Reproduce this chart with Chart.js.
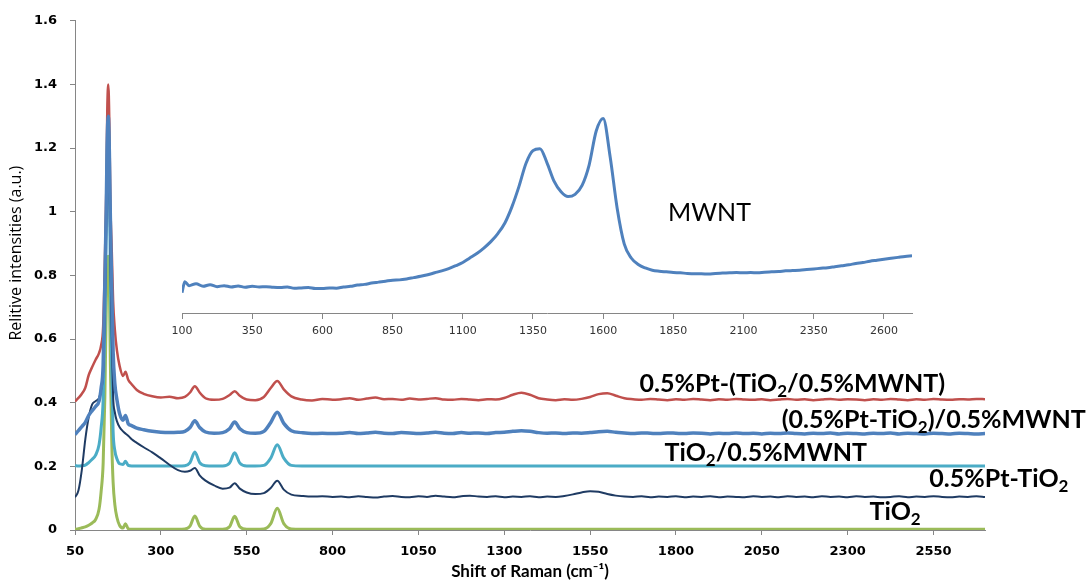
<!DOCTYPE html>
<html>
<head>
<meta charset="utf-8">
<script src="https://cdn.jsdelivr.net/npm/chart.js@4.4.1/dist/chart.umd.min.js"></script>
<style>
  html, body { margin: 0; padding: 0; background: #fff; }
  #wrap { position: relative; width: 1086px; height: 583px; }
  #main { position: absolute; left: 0; top: 0; }
  #inset { position: absolute; left: 150px; top: 100px; }
</style>
</head>
<body>
<div id="wrap">
  <canvas id="main" width="1086" height="583"></canvas>
  <canvas id="inset" width="790" height="250"></canvas>
</div>
<script>
// Raman shift grid (cm-1) shared by the five sample spectra
const shifts = [
  50, 60, 70, 80, 90, 100, 110, 120,
  126, 132, 137, 141, 144, 147, 150, 153, 157, 161,
  166, 172, 180, 190, 197, 205, 215, 230, 250, 275,
  300, 325, 350, 370, 385, 399, 413, 430, 455, 480,
  500, 515, 530, 550, 575, 600, 620, 639, 658, 680,
  710, 740, 770, 800,
  825, 850, 875, 900, 925, 950, 975, 1000, 1025, 1050,
  1075, 1100, 1125, 1150, 1175, 1200, 1225, 1250, 1275, 1300,
  1325, 1350, 1375, 1400, 1425, 1450, 1475, 1500, 1525, 1550,
  1575, 1600, 1625, 1650, 1675, 1700, 1725, 1750, 1775, 1800,
  1825, 1850, 1875, 1900, 1925, 1950, 1975, 2000, 2025, 2050,
  2075, 2100, 2125, 2150, 2175, 2200, 2225, 2250, 2275, 2300,
  2325, 2350, 2375, 2400, 2425, 2450, 2475, 2500, 2525, 2550,
  2575, 2600, 2625, 2650, 2675, 2700
];

// TiO2
const tio2 = [
  0.002, 0.004, 0.007, 0.010, 0.015, 0.022, 0.033, 0.065,
  0.120, 0.210, 0.420, 0.700, 0.840, 0.860, 0.780, 0.520, 0.280, 0.150,
  0.080, 0.040, 0.014, 0.006, 0.020, 0.004, 0.002, 0.002, 0.002, 0.002,
  0.002, 0.002, 0.002, 0.003, 0.012, 0.044, 0.012, 0.002, 0.002, 0.002,
  0.010, 0.043, 0.010, 0.002, 0.002, 0.003, 0.020, 0.068, 0.020, 0.003,
  0.002, 0.002, 0.002, 0.002,
  0.002, 0.002, 0.002, 0.002, 0.002, 0.002, 0.002, 0.002, 0.002, 0.002,
  0.002, 0.002, 0.002, 0.002, 0.002, 0.002, 0.002, 0.002, 0.002, 0.002,
  0.002, 0.002, 0.002, 0.002, 0.002, 0.002, 0.002, 0.002, 0.002, 0.002,
  0.002, 0.002, 0.002, 0.002, 0.002, 0.002, 0.002, 0.002, 0.002, 0.002,
  0.002, 0.002, 0.002, 0.002, 0.002, 0.002, 0.002, 0.002, 0.002, 0.002,
  0.002, 0.002, 0.002, 0.002, 0.002, 0.002, 0.002, 0.002, 0.002, 0.002,
  0.002, 0.002, 0.002, 0.002, 0.002, 0.002, 0.002, 0.002, 0.002, 0.002,
  0.002, 0.002, 0.002, 0.002, 0.002, 0.002
];

// TiO2/0.5%MWNT
const tio2Mwnt = [
  0.202, 0.201, 0.202, 0.204, 0.212, 0.222, 0.235, 0.268,
  0.320, 0.410, 0.650, 0.950, 1.200, 1.280, 1.120, 0.800, 0.500, 0.310,
  0.250, 0.224, 0.208, 0.206, 0.216, 0.203, 0.201, 0.201, 0.201, 0.201,
  0.201, 0.201, 0.201, 0.202, 0.212, 0.245, 0.212, 0.202, 0.201, 0.201,
  0.210, 0.243, 0.210, 0.201, 0.201, 0.203, 0.226, 0.268, 0.226, 0.203,
  0.201, 0.201, 0.201, 0.201,
  0.201, 0.201, 0.201, 0.201, 0.201, 0.201, 0.201, 0.201, 0.201, 0.201,
  0.201, 0.201, 0.201, 0.201, 0.201, 0.201, 0.201, 0.201, 0.201, 0.201,
  0.201, 0.201, 0.201, 0.201, 0.201, 0.201, 0.201, 0.201, 0.201, 0.201,
  0.201, 0.201, 0.201, 0.201, 0.201, 0.201, 0.201, 0.201, 0.201, 0.201,
  0.201, 0.201, 0.201, 0.201, 0.201, 0.201, 0.201, 0.201, 0.201, 0.201,
  0.201, 0.201, 0.201, 0.201, 0.201, 0.201, 0.201, 0.201, 0.201, 0.201,
  0.201, 0.201, 0.201, 0.201, 0.201, 0.201, 0.201, 0.201, 0.201, 0.201,
  0.201, 0.201, 0.201, 0.201, 0.201, 0.201
];

// 0.5%Pt-TiO2
const ptTio2 = [
  0.103, 0.124, 0.190, 0.285, 0.355, 0.395, 0.405, 0.415,
  0.440, 0.500, 0.700, 0.950, 1.150, 1.220, 1.100, 0.850, 0.600, 0.420,
  0.370, 0.342, 0.323, 0.310, 0.303, 0.296, 0.285, 0.274, 0.260, 0.244,
  0.225, 0.205, 0.188, 0.183, 0.186, 0.195, 0.172, 0.155, 0.140, 0.130,
  0.133, 0.147, 0.130, 0.118, 0.113, 0.116, 0.132, 0.155, 0.127, 0.111,
  0.107, 0.105, 0.106, 0.104,
  0.105, 0.103, 0.106, 0.104, 0.102, 0.105, 0.107, 0.104, 0.103, 0.106,
  0.104, 0.108, 0.105, 0.103, 0.106, 0.108, 0.105, 0.104, 0.106, 0.103,
  0.105, 0.104, 0.106, 0.103, 0.105, 0.104, 0.107, 0.112, 0.118, 0.122,
  0.120, 0.113, 0.108, 0.105, 0.104, 0.106, 0.103, 0.105, 0.104, 0.106,
  0.103, 0.105, 0.104, 0.106, 0.103, 0.105, 0.104, 0.103, 0.106, 0.104,
  0.105, 0.103, 0.106, 0.104, 0.105, 0.103, 0.106, 0.104, 0.105, 0.103,
  0.106, 0.104, 0.105, 0.103, 0.104, 0.106, 0.103, 0.105, 0.104, 0.106,
  0.104, 0.103, 0.105, 0.104, 0.106, 0.104
];

// (0.5%Pt-TiO2)/0.5%MWNT
const ptTio2Mwnt = [
  0.300, 0.312, 0.325, 0.338, 0.360, 0.375, 0.388, 0.405,
  0.445, 0.520, 0.780, 1.010, 1.230, 1.300, 1.190, 0.980, 0.760, 0.560,
  0.460, 0.410, 0.365, 0.345, 0.360, 0.334, 0.328, 0.320, 0.315, 0.310,
  0.307, 0.306, 0.307, 0.310, 0.322, 0.343, 0.322, 0.308, 0.304, 0.306,
  0.318, 0.339, 0.318, 0.306, 0.304, 0.310, 0.338, 0.370, 0.335, 0.312,
  0.306, 0.303, 0.304, 0.303,
  0.304, 0.306, 0.303, 0.305, 0.307, 0.304, 0.303, 0.306, 0.305, 0.303,
  0.305, 0.307, 0.304, 0.303, 0.306, 0.304, 0.305, 0.303, 0.306, 0.307,
  0.310, 0.312, 0.310, 0.306, 0.304, 0.305, 0.303, 0.305, 0.304, 0.306,
  0.309, 0.310, 0.307, 0.305, 0.303, 0.305, 0.304, 0.303, 0.305, 0.304,
  0.303, 0.305, 0.304, 0.302, 0.304, 0.303, 0.305, 0.303, 0.304, 0.302,
  0.304, 0.303, 0.305, 0.303, 0.302, 0.304, 0.303, 0.305, 0.302, 0.304,
  0.303, 0.302, 0.304, 0.303, 0.305, 0.302, 0.304, 0.303, 0.302, 0.304,
  0.303, 0.302, 0.304, 0.303, 0.302, 0.303
];

// 0.5%Pt-(TiO2/0.5%MWNT)
const ptOnTio2Mwnt = [
  0.404, 0.415, 0.428, 0.447, 0.487, 0.512, 0.535, 0.556,
  0.580, 0.640, 0.850, 1.060, 1.320, 1.400, 1.280, 1.030, 0.880, 0.720,
  0.630, 0.565, 0.515, 0.484, 0.497, 0.472, 0.458, 0.440, 0.428, 0.420,
  0.416, 0.419, 0.414, 0.418, 0.432, 0.452, 0.432, 0.414, 0.409, 0.412,
  0.424, 0.436, 0.422, 0.410, 0.408, 0.418, 0.446, 0.468, 0.442, 0.420,
  0.410, 0.407, 0.412, 0.409,
  0.411, 0.414, 0.409, 0.413, 0.416, 0.411, 0.412, 0.409, 0.413, 0.410,
  0.412, 0.414, 0.410, 0.409, 0.412, 0.410, 0.408, 0.411, 0.410, 0.415,
  0.425, 0.431, 0.425, 0.414, 0.410, 0.408, 0.411, 0.409, 0.412, 0.418,
  0.427, 0.430, 0.422, 0.414, 0.411, 0.409, 0.412, 0.410, 0.408, 0.411,
  0.409, 0.412, 0.410, 0.408, 0.411, 0.409, 0.412, 0.410, 0.409, 0.411,
  0.408, 0.410, 0.412, 0.409, 0.411, 0.408, 0.410, 0.412, 0.409, 0.411,
  0.410, 0.408, 0.411, 0.409, 0.412, 0.410, 0.408, 0.411, 0.409, 0.412,
  0.410, 0.409, 0.411, 0.410, 0.412, 0.411
];

// inset: bare MWNT spectrum
const mwntShifts = [
  100, 110,
  125, 150, 175, 200, 225, 250, 275, 300, 325, 350,
  375, 400, 425, 450, 475, 500, 525, 550, 575, 600,
  625, 650, 675, 700, 725, 750, 775, 800, 825, 850,
  875, 900, 925, 950, 975, 1000, 1025, 1050, 1075, 1100,
  1125, 1150, 1175, 1200, 1225, 1250, 1275, 1300, 1325, 1350,
  1375, 1400, 1425, 1450, 1475, 1500, 1525, 1550, 1575, 1600,
  1625, 1650, 1675, 1700, 1725, 1750, 1775, 1800, 1825, 1850,
  1875, 1900, 1925, 1950, 1975, 2000, 2025, 2050, 2075, 2100,
  2125, 2150, 2175, 2200, 2225, 2250, 2275, 2300, 2325, 2350,
  2375, 2400, 2425, 2450, 2475, 2500, 2525, 2550, 2575, 2600,
  2625, 2650, 2675, 2700
];
const mwnt = [
  0.738, 0.772,
  0.760, 0.766, 0.758, 0.763, 0.757, 0.760, 0.756, 0.759, 0.755, 0.758,
  0.756, 0.757, 0.755, 0.754, 0.756, 0.752, 0.753, 0.754, 0.751, 0.751,
  0.753, 0.752, 0.756, 0.758, 0.762, 0.764, 0.768, 0.771, 0.774, 0.777,
  0.778, 0.781, 0.785, 0.789, 0.794, 0.800, 0.806, 0.813, 0.822, 0.832,
  0.846, 0.860, 0.877, 0.897, 0.922, 0.955, 1.005, 1.068, 1.140, 1.180,
  1.186, 1.142, 1.085, 1.052, 1.037, 1.044, 1.072, 1.135, 1.240, 1.280,
  1.160, 1.000, 0.890, 0.846, 0.826, 0.815, 0.808, 0.805, 0.803, 0.801,
  0.800, 0.798, 0.797, 0.797, 0.796, 0.798, 0.799, 0.800, 0.801, 0.800,
  0.801, 0.800, 0.802, 0.803, 0.804, 0.806, 0.807, 0.808, 0.810, 0.812,
  0.814, 0.816, 0.819, 0.822, 0.825, 0.829, 0.832, 0.836, 0.839, 0.842,
  0.845, 0.848, 0.851, 0.853
];

const xTicks = [50, 300, 550, 800, 1050, 1300, 1550, 1800, 2050, 2300, 2550];
const insetTicks = [100, 350, 600, 850, 1100, 1350, 1600, 1850, 2100, 2350, 2600];

const pts = (xs, ys) => xs.map((x, i) => ({ x: x, y: ys[i] }));
const plainNum = v => String(+Number(v).toFixed(2));

const axisGrey = '#868686';

// draw "TiO₂" style text with a real lowered subscript 2
function drawSubText(ctx, text, x, y, size, weight) {
  const parts = text.split('₂');
  parts.forEach((p, i) => {
    ctx.font = weight + ' ' + size + 'px Lato';
    ctx.fillText(p, x, y);
    x += ctx.measureText(p).width;
    if (i < parts.length - 1) {
      ctx.font = weight + ' ' + Math.round(size * 0.66) + 'px Lato';
      ctx.fillText('2', x, y + size * 0.2);
      x += ctx.measureText('2').width;
    }
  });
}

const seriesText = {
  id: 'seriesText',
  afterDatasetsDraw(chart, args, opts) {
    const ctx = chart.ctx;
    const xs = chart.scales.x, ys = chart.scales.y;
    ctx.save();
    ctx.fillStyle = '#000';
    ctx.textBaseline = 'alphabetic';
    ctx.textAlign = 'left';
    chart.data.datasets.forEach(ds => {
      if (!ds.labelAt) return;
      drawSubText(ctx, ds.label, xs.getPixelForValue(ds.labelAt.x), ys.getPixelForValue(ds.labelAt.y), opts.size, opts.weight);
    });
    if (opts.yTitle) {
      ctx.translate(opts.yTitle.x, ys.getPixelForValue(opts.yTitle.at));
      ctx.rotate(-Math.PI / 2);
      ctx.textAlign = 'center';
      ctx.textBaseline = 'middle';
      ctx.font = opts.yTitle.font;
      ctx.fillText(opts.yTitle.text, 0, 0);
    }
    ctx.restore();
  }
};

const spectrum = (label, ys, color, width, labelAt) => ({
  label: label,
  data: pts(shifts, ys),
  borderColor: color,
  backgroundColor: color,
  borderWidth: width,
  pointRadius: 0,
  cubicInterpolationMode: 'monotone',
  fill: false,
  labelAt: labelAt
});

// first dataset is drawn on top
new Chart(document.getElementById('main').getContext('2d'), {
  type: 'line',
  data: {
    datasets: [
      spectrum('(0.5%Pt-TiO₂)/0.5%MWNT', ptTio2Mwnt, '#4f81bd', 3.5, { x: 2108, y: 0.320 }),
      spectrum('0.5%Pt-TiO₂', ptTio2, '#1f3b63', 2, { x: 2538, y: 0.134 }),
      spectrum('TiO₂/0.5%MWNT', tio2Mwnt, '#4bacc6', 3, { x: 1767, y: 0.217 }),
      spectrum('TiO₂', tio2, '#9bbb59', 3, { x: 2364, y: 0.031 }),
      spectrum('0.5%Pt-(TiO₂/0.5%MWNT)', ptOnTio2Mwnt, '#c0504d', 2.5, { x: 1694, y: 0.435 })
    ]
  },
  options: {
    responsive: false,
    animation: false,
    layout: { padding: { left: 4, right: 101, top: 15, bottom: 0 } },
    plugins: {
      legend: { display: false },
      tooltip: { enabled: false },
      seriesText: {
        size: 25,
        weight: 'bold',
        yTitle: { text: 'Relitive intensities (a.u.)', x: 16, at: 0.87, font: '16px "Open Sans"' }
      }
    },
    scales: {
      x: {
        type: 'linear',
        min: 50,
        max: 2700,
        afterBuildTicks: s => { s.ticks = xTicks.map(v => ({ value: v })); },
        afterFit: s => { s.height = 53; },
        grid: { drawOnChartArea: false, drawTicks: true, tickLength: 5, color: axisGrey },
        border: { color: axisGrey },
        ticks: {
          color: '#000',
          padding: 9,
          maxRotation: 0,
          autoSkip: false,
          callback: plainNum,
          font: { family: 'DejaVu Sans', size: 13, weight: 'bold' }
        },
        title: {
          display: true,
          text: 'Shift of Raman (cm⁻¹)',
          color: '#000',
          font: { family: 'Lato', size: 17, weight: 'bold' },
          padding: { top: 0, bottom: 1 }
        }
      },
      y: {
        min: 0,
        max: 1.6,
        afterFit: s => { s.width = 71; },
        grid: { drawOnChartArea: false, drawTicks: true, tickLength: 5, color: axisGrey },
        border: { color: axisGrey },
        ticks: {
          stepSize: 0.2,
          color: '#000',
          padding: 13,
          callback: plainNum,
          font: { family: 'DejaVu Sans', size: 13, weight: 'bold' }
        }
      }
    }
  },
  plugins: [seriesText]
});

// inset chart laid over the main one
new Chart(document.getElementById('inset').getContext('2d'), {
  type: 'line',
  data: {
    datasets: [{
      label: 'MWNT',
      data: pts(mwntShifts, mwnt),
      borderColor: '#4f81bd',
      backgroundColor: '#4f81bd',
      borderWidth: 3,
      pointRadius: 0,
      cubicInterpolationMode: 'monotone',
      fill: false,
      labelAt: { x: 1831, y: 0.96 }
    }]
  },
  options: {
    responsive: false,
    animation: false,
    layout: { padding: { left: 32, right: 28, top: 12, bottom: 7 } },
    plugins: {
      legend: { display: false },
      tooltip: { enabled: false },
      seriesText: { size: 25, weight: 'normal' }
    },
    scales: {
      x: {
        type: 'linear',
        min: 100,
        max: 2700,
        afterBuildTicks: s => { s.ticks = insetTicks.map(v => ({ value: v })); },
        afterFit: s => { s.height = 30; },
        grid: { drawOnChartArea: false, drawTicks: true, tickLength: 6, color: axisGrey },
        border: { color: axisGrey },
        ticks: {
          color: '#333',
          padding: 6,
          maxRotation: 0,
          autoSkip: false,
          callback: plainNum,
          font: { family: 'DejaVu Sans', size: 11 }
        }
      },
      y: { display: false, min: 0.675, max: 1.3 }
    }
  },
  plugins: [seriesText]
});
</script>
</body>
</html>
